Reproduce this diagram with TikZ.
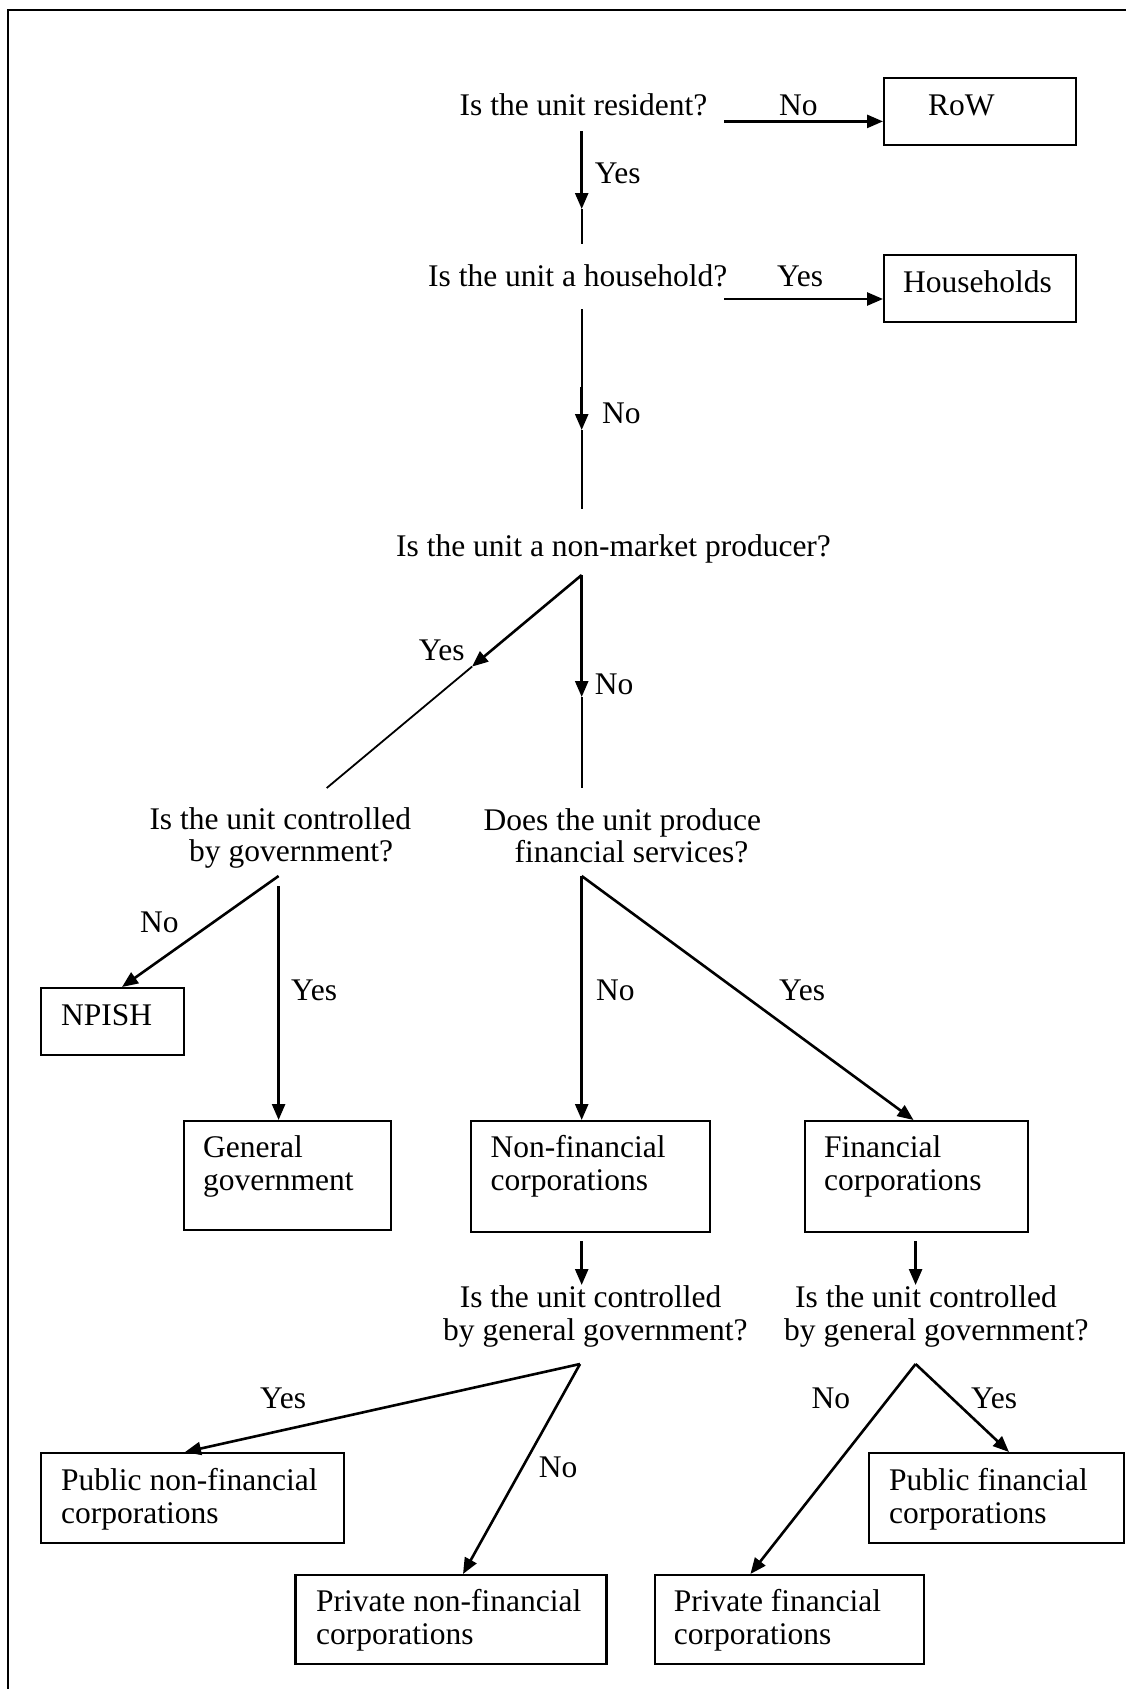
\documentclass[tikz,border=0pt]{standalone}
\usepackage{fontspec}
\setmainfont{Liberation Serif}
\usetikzlibrary{arrows.meta}
\begin{document}
\begin{tikzpicture}[x=1pt,y=-1pt,
  txt/.style={font=\fontsize{31.5}{33}\selectfont, inner sep=0pt, anchor=base west},
  boxn/.style={draw, line width=2.3pt, inner sep=0pt, anchor=north west},
  arr/.style={line width=2.6pt, -{Triangle[length=16pt,width=13pt]}},
  plainln/.style={line width=1.8pt}]
\useasboundingbox (0,0) rectangle (1126,1689);
% frame
\draw[line width=2.2pt] (8,1689) -- (8,10) -- (1126,10);

% boxes
\node[boxn, minimum width=192pt, minimum height=67pt] (row) at (883,77) {};
\node[boxn, minimum width=192pt, minimum height=67pt] (hh) at (883,254) {};
\node[boxn, minimum width=143.5pt, minimum height=67pt] (npish) at (39.5,987) {};
\node[boxn, minimum width=207pt, minimum height=109pt] (gg) at (183,1120) {};
\node[boxn, minimum width=239pt, minimum height=111pt] (nfc) at (470,1120) {};
\node[boxn, minimum width=223pt, minimum height=111pt] (fc) at (804,1120) {};
\node[boxn, minimum width=303pt, minimum height=90pt] (pnfc) at (39.5,1452) {};
\node[boxn, minimum width=311pt, minimum height=89pt] (prnfc) at (294.4,1574) {};
\node[boxn, minimum width=255pt, minimum height=90pt] (pfc) at (867.5,1452) {};
\node[boxn, minimum width=269.3pt, minimum height=89pt] (prfc) at (653.5,1574) {};

% box texts
\node[txt] (rowt) at (928,115) {RoW};
\node[txt] (hht) at (903,292) {Households};
\node[txt] (npisht) at (61,1025) {NPISH};
\node[txt] (ggt1) at (203,1157) {General};
\node[txt] (ggt2) at (203,1190) {government};
\node[txt] (nfct1) at (490.5,1157) {Non-financial};
\node[txt] (nfct2) at (490.5,1190) {corporations};
\node[txt] (fct1) at (824,1157) {Financial};
\node[txt] (fct2) at (824,1190) {corporations};
\node[txt] (pnfct1) at (61,1490) {Public non-financial};
\node[txt] (pnfct2) at (61,1523.5) {corporations};
\node[txt] (prnfct1) at (316,1611) {Private non-financial};
\node[txt] (prnfct2) at (316,1644.5) {corporations};
\node[txt] (pfct1) at (889,1490) {Public financial};
\node[txt] (pfct2) at (889,1523.5) {corporations};
\node[txt] (prfct1) at (673.6,1611) {Private financial};
\node[txt] (prfct2) at (673.6,1644.5) {corporations};

% questions
\node[txt] (q1) at (459.5,115) {Is the unit resident?};
\node[txt] (q2) at (428,286) {Is the unit a household?};
\node[txt] (q3) at (396,556) {Is the unit a non-market producer?};
\node[txt] (q4a) at (149.3,829.3) {Is the unit controlled};
\node[txt] (q4b) at (189,861.7) {by government?};
\node[txt] (q5a) at (483.5,830) {Does the unit produce};
\node[txt] (q5b) at (514.5,862) {financial services?};
\node[txt] (q6a) at (459.6,1307) {Is the unit controlled};
\node[txt] (q6b) at (443,1340) {by general government?};
\node[txt] (q7a) at (795,1307) {Is the unit controlled};
\node[txt] (q7b) at (784,1340) {by general government?};

% labels
\node[txt] (l1) at (779,115) {No};
\node[txt] (l2) at (594.6,183) {Yes};
\node[txt] (l3) at (777,286) {Yes};
\node[txt] (l4) at (602,423) {No};
\node[txt] (l5) at (418.7,660) {Yes};
\node[txt] (l6) at (594.6,694) {No};
\node[txt] (l7) at (140,932) {No};
\node[txt] (l8) at (291,1000) {Yes};
\node[txt] (l9) at (596,1000) {No};
\node[txt] (l10) at (779,1000) {Yes};
\node[txt] (l11) at (260,1408) {Yes};
\node[txt] (l12) at (538.6,1477) {No};
\node[txt] (l13) at (811.5,1408) {No};
\node[txt] (l14) at (971,1408) {Yes};

% connector points
\coordinate (c1) at (724,121.4);
\coordinate (c2) at (724,299);
\coordinate (v1s) at (581.7,131);
\coordinate (v1t) at (581.7,209);
\coordinate (v1e) at (581.7,243.6);
\coordinate (v2s) at (581.7,309);
\coordinate (v2m) at (581.7,387);
\coordinate (v2t) at (581.7,430);
\coordinate (v2e) at (581.7,509);
\coordinate (ap1) at (581.7,575);
\coordinate (y1t) at (472.05,666.6);
\coordinate (y1e) at (326.7,788);
\coordinate (n1t) at (581.7,697);
\coordinate (n1e) at (581.7,788);
\coordinate (ap2) at (278.6,876);
\coordinate (ap2b) at (278.6,886);
\coordinate (npt) at (122,987);
\coordinate (ap3) at (581.7,876);
\coordinate (fct) at (913.5,1120);
\coordinate (d1s) at (581.7,1241);
\coordinate (d1e) at (581.7,1285);
\coordinate (d2s) at (915.6,1241);
\coordinate (d2e) at (915.6,1285);
\coordinate (ap4) at (580,1364);
\coordinate (pnfcT) at (185,1452);
\coordinate (prnfcT) at (463,1574);
\coordinate (ap5) at (915.6,1364);
\coordinate (prfcT) at (750.4,1574);
\coordinate (pfcT) at (1009,1452);

% connectors
\draw[arr] (c1) -- (row.west |- c1);
\draw[arr] (c2) -- (hh.west |- c2);
\draw[arr] (v1s) -- (v1t);
\draw[plainln] (v1t) -- (v1e);
\draw[plainln] (v2s) -- (v2m);
\draw[arr] (v2m) -- (v2t);
\draw[plainln] (v2t) -- (v2e);
\draw[arr] (ap1) -- (y1t);
\draw[plainln] (y1t) -- (y1e);
\draw[arr] (ap1) -- (n1t);
\draw[plainln] (n1t) -- (n1e);
\draw[arr] (ap2) -- (npt);
\draw[arr] (ap2b) -- (ap2b |- gg.north);
\draw[arr] (ap3) -- (ap3 |- nfc.north);
\draw[arr] (ap3) -- (fct);
\draw[arr] (d1s) -- (d1e);
\draw[arr] (d2s) -- (d2e);
\draw[arr] (ap4) -- (pnfcT);
\draw[arr] (ap4) -- (prnfcT);
\draw[arr] (ap5) -- (prfcT);
\draw[arr] (ap5) -- (pfcT);
\end{tikzpicture}
\end{document}
